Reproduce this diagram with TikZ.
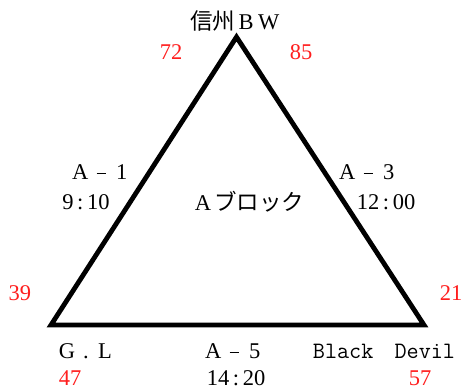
\documentclass[tikz,border=0pt]{standalone}
\usepackage{fontspec}
\setmainfont{Liberation Serif}
\newfontfamily\jpfont{Noto Sans CJK JP}
\newcommand{\fw}[1]{\makebox[1em][c]{#1}}
\newcommand{\fwdash}{\makebox[0.85em][c]{\rule[0.24em]{0.4em}{0.06em}}}
\newcommand{\hwcolon}{\makebox[0.6em][c]{:}}
\definecolor{numred}{RGB}{255,30,30}
\begin{document}
\begin{tikzpicture}[x=1pt,y=-1pt,
  lbl/.style={inner sep=0pt,anchor=center,font=\fontsize{22.5}{22.5}\selectfont},
  num/.style={lbl,text=numred},
  tri/.style={line width=4.8pt,line join=miter,draw=black}]
\useasboundingbox (0,0) rectangle (463,390);
\coordinate (apex) at (236.5,37);
\coordinate (bl) at (51,325);
\coordinate (br) at (424,325);
\draw[tri] (apex) -- (br) -- (bl) -- cycle;
% top team
\node[lbl] (t1) at (235,21) {{\jpfont 信州}\fw{B}\fw{W}};
\node[num] (n72) at (171,52) {72};
\node[num] (n85) at (301,52) {85};
% left side
\node[lbl] (a1) at (101,172) {\fw{A}\fwdash\fw{1}};
\node[lbl] (a1t) at (86,202) {9\hwcolon10};
% right side
\node[lbl] (a3) at (368,172) {\fw{A}\fwdash\fw{3}};
\node[lbl] (a3t) at (386,202) {12\hwcolon00};
% center
\node[lbl] (blk) at (248,202) {\fw{A}{\jpfont ブロック}};
% side numbers
\node[num] (n39) at (20,293) {39};
\node[num] (n21) at (451,293) {21};
% bottom
\node[lbl] (gl) at (86,351) {\fw{G}\makebox[0.7em][c]{.}\fw{L}};
\node[lbl] (a5) at (234,351) {\fw{A}\fwdash\fw{5}};
\node[lbl,font=\ttfamily\fontsize{23.5}{23.5}\selectfont] (bd) at (384,351) {Black\hspace{0.9em}Devil};
\node[num] (n47) at (70,378) {47};
\node[lbl] (a5t) at (236,378) {14\hwcolon20};
\node[num] (n57) at (420,378) {57};
\end{tikzpicture}
\end{document}
